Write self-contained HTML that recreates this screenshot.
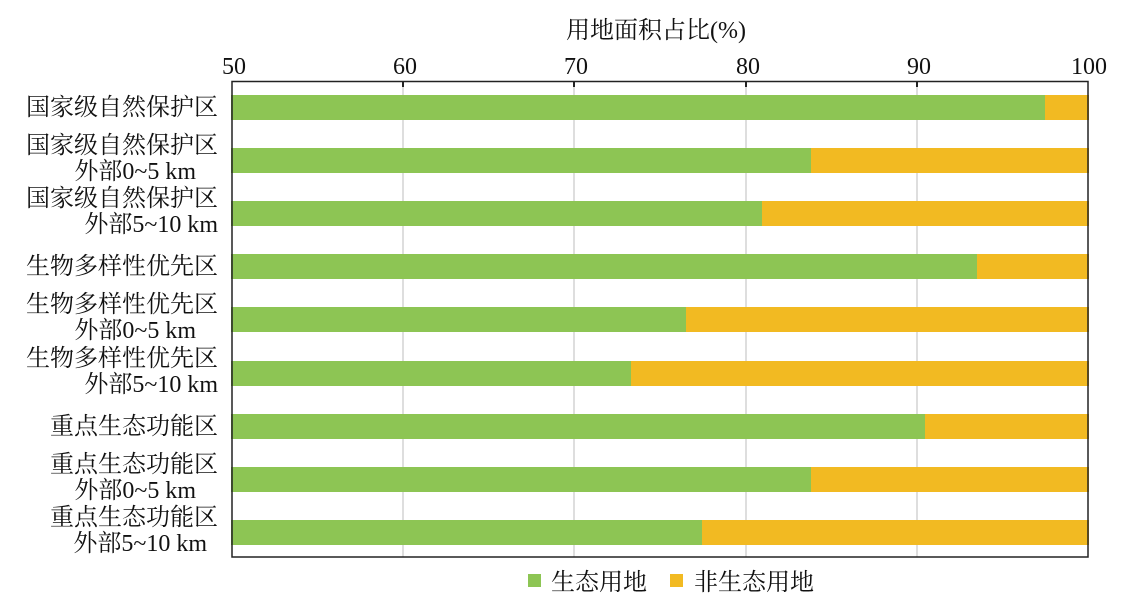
<!DOCTYPE html>
<html><head><meta charset="utf-8"><style>
body{margin:0;background:#fff}
text{font-family:"Liberation Serif","Noto Serif CJK SC",serif;fill:#111}
</style></head><body>
<svg width="1140" height="607" xmlns="http://www.w3.org/2000/svg">
<text x="656" y="38" font-size="24" text-anchor="middle">用地面积占比(%)</text>
<g font-size="24" text-anchor="middle">
<text x="234" y="74">50</text><text x="405" y="74">60</text><text x="576" y="74">70</text>
<text x="748" y="74">80</text><text x="919" y="74">90</text><text x="1089" y="74">100</text>
</g>
<g stroke="#d4d4d4" stroke-width="1.5">
<line x1="403" y1="82" x2="403" y2="557"/><line x1="574" y1="82" x2="574" y2="557"/>
<line x1="746" y1="82" x2="746" y2="557"/><line x1="917" y1="82" x2="917" y2="557"/>
</g>
<g fill="#8dc554">
<rect x="231" y="95" width="814" height="25"/>
<rect x="231" y="148" width="580" height="25"/>
<rect x="231" y="201" width="531" height="25"/>
<rect x="231" y="254" width="746" height="25"/>
<rect x="231" y="307" width="455" height="25"/>
<rect x="231" y="361" width="400" height="25"/>
<rect x="231" y="414" width="694" height="25"/>
<rect x="231" y="467" width="580" height="25"/>
<rect x="231" y="520" width="471" height="25"/>
</g>
<g fill="#f2ba22">
<rect x="1045" y="95" width="44" height="25"/>
<rect x="811" y="148" width="278" height="25"/>
<rect x="762" y="201" width="327" height="25"/>
<rect x="977" y="254" width="112" height="25"/>
<rect x="686" y="307" width="403" height="25"/>
<rect x="631" y="361" width="458" height="25"/>
<rect x="925" y="414" width="164" height="25"/>
<rect x="811" y="467" width="278" height="25"/>
<rect x="702" y="520" width="387" height="25"/>
</g>
<rect x="232" y="81.5" width="856" height="475.5" fill="none" stroke="#222" stroke-width="1.5"/>
<g stroke="#222" stroke-width="2">
<line x1="403" y1="82" x2="403" y2="87"/><line x1="574" y1="82" x2="574" y2="87"/>
<line x1="746" y1="82" x2="746" y2="87"/><line x1="917" y1="82" x2="917" y2="87"/>
</g>
<g font-size="24" text-anchor="end">
<text x="218" y="115">国家级自然保护区</text>
<text x="218" y="153">国家级自然保护区</text><text x="196" y="179">外部0~5 km</text>
<text x="218" y="206">国家级自然保护区</text><text x="218" y="232">外部5~10 km</text>
<text x="218" y="274">生物多样性优先区</text>
<text x="218" y="312">生物多样性优先区</text><text x="196" y="338">外部0~5 km</text>
<text x="218" y="366">生物多样性优先区</text><text x="218" y="392">外部5~10 km</text>
<text x="218" y="434">重点生态功能区</text>
<text x="218" y="472">重点生态功能区</text><text x="196" y="498">外部0~5 km</text>
<text x="218" y="525">重点生态功能区</text><text x="207" y="551">外部5~10 km</text>
</g>
<rect x="528" y="574" width="13" height="13" fill="#8dc554"/>
<text x="551" y="590" font-size="24">生态用地</text>
<rect x="670" y="574" width="13" height="13" fill="#f2ba22"/>
<text x="694" y="590" font-size="24">非生态用地</text>
</svg>
</body></html>
